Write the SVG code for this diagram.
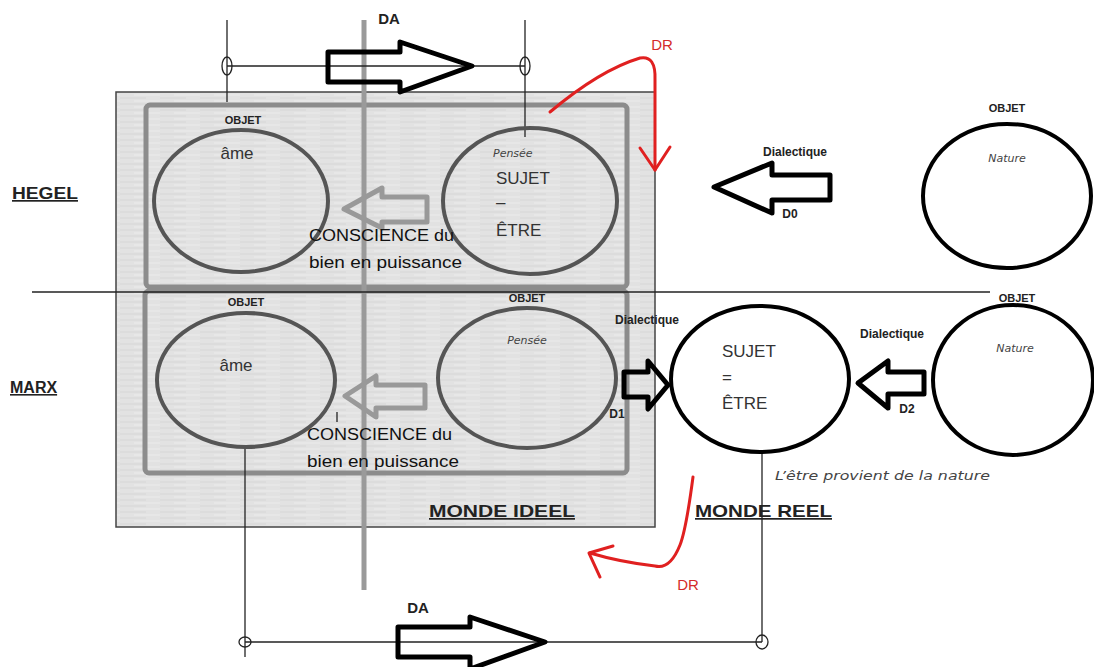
<svg xmlns="http://www.w3.org/2000/svg" width="1094" height="667" viewBox="0 0 1094 667">
<defs>
<style>
.lbl{font-family:"Liberation Sans",Arial,sans-serif;fill:#222}
.b{font-weight:bold}
.obj{font-family:"Liberation Sans",Arial,sans-serif;font-weight:bold;font-size:11px;fill:#222;text-anchor:middle}
.dia{font-family:"Liberation Sans",Arial,sans-serif;font-weight:bold;font-size:12px;fill:#222}
.it{font-family:"DejaVu Sans",Verdana,sans-serif;font-style:italic;fill:#444}
.big{font-family:"Liberation Sans",Arial,sans-serif;font-size:17px;fill:#333}
.narrow{font-family:"Liberation Sans",Arial,sans-serif;font-size:16px;fill:#111}
.red{font-family:"Liberation Sans",Arial,sans-serif;font-size:15px;fill:#d42a2a}
.gell{fill:none;stroke:#555;stroke-width:4}
.kell{fill:none;stroke:#000;stroke-width:4}
.thin{stroke:#222;stroke-width:1.3;fill:none}
.harrow{fill:none;stroke:#000;stroke-width:5;stroke-linejoin:round}
.garrow{fill:none;stroke:#999;stroke-width:5;stroke-linejoin:round}
.redp{fill:none;stroke:#e02020;stroke-width:3;stroke-linecap:round;stroke-linejoin:round}
.und{text-decoration:underline}
</style>
<pattern id="tex" width="40" height="6" patternUnits="userSpaceOnUse">
<rect width="40" height="6" fill="#e2e2e2"/>
<line x1="0" y1="2" x2="26" y2="2" stroke="#d6d6d6" stroke-width="1"/>
<line x1="14" y1="5" x2="40" y2="5" stroke="#ececec" stroke-width="1"/>
</pattern>
</defs>
<rect width="1094" height="667" fill="#fff"/>

<g id="monde-ideel-panel">
<rect x="116" y="92" width="539" height="435" fill="url(#tex)" stroke="#444" stroke-width="1.5"/>
<rect x="146" y="105" width="481" height="182" rx="4" fill="none" stroke="#8c8c8c" stroke-width="5"/>
<rect x="145" y="291" width="482" height="182" rx="4" fill="none" stroke="#8c8c8c" stroke-width="5"/>
<text class="lbl b und" x="429" y="517" font-size="17" textLength="146" lengthAdjust="spacingAndGlyphs">MONDE IDEEL</text>
</g>

<g id="gray-axis">
<line x1="364" y1="20" x2="364" y2="590" stroke="#9a9a9a" stroke-width="5"/>
</g>

<g id="labels-left">
<text class="lbl b und" x="12" y="199" font-size="17" textLength="66" lengthAdjust="spacingAndGlyphs">HEGEL</text>
<text class="lbl b und" x="10" y="393" font-size="16">MARX</text>
</g>

<g id="connectors">
<line class="thin" x1="32" y1="292" x2="990" y2="292"/>
<line class="thin" x1="227" y1="20" x2="227" y2="102"/>
<line class="thin" x1="525" y1="20" x2="525" y2="137"/>
<line class="thin" x1="227" y1="66" x2="525" y2="66"/>
<ellipse class="thin" cx="227" cy="66" rx="5" ry="9" fill="#fff"/>
<ellipse class="thin" cx="525" cy="66" rx="5" ry="9" fill="#fff"/>
<line class="thin" x1="245" y1="447" x2="245" y2="657"/>
<line class="thin" x1="762" y1="454" x2="762" y2="642"/>
<line class="thin" x1="245" y1="642" x2="762" y2="642"/>
<ellipse class="thin" cx="245" cy="642" rx="6" ry="5" fill="#fff"/>
<ellipse class="thin" cx="762" cy="642" rx="6" ry="7" fill="#fff"/>
<line class="thin" x1="337" y1="412" x2="337" y2="422"/>
<polygon class="harrow" points="328,52 400,52 400,42 472,66 400,92 400,82 328,82"/>
<polygon class="harrow" points="398,627 470,627 470,617 545,642 470,669 470,657 398,657"/>
<polygon class="garrow" points="344,209 382,188 382,197 427,197 427,222 382,222 382,228"/>
<polygon class="garrow" points="345,396 376,376 376,385 425,385 425,408 376,408 376,417"/>
<polygon class="harrow" points="714,187 772,163 772,175 830,175 830,200 772,200 772,213"/>
<polygon class="harrow" points="624,372 648,372 648,361 668,385 648,409 648,397 624,397"/>
<polygon class="harrow" points="858,383 888,361 888,372 924,372 924,394 888,394 888,408"/>
<path class="redp" d="M550,112 Q600,70 640,58 Q656,55 655,80 L655,170"/>
<path class="redp" d="M640,148 L655,170 L670,147"/>
<path class="redp" d="M693,477 Q686,530 680,545 Q670,570 655,566 Q620,562 590,553"/>
<path class="redp" d="M613,546 L589,553 L600,577"/>
<text class="lbl b" x="389" y="24" font-size="15" text-anchor="middle">DA</text>
<text class="lbl b" x="418" y="613" font-size="15" text-anchor="middle">DA</text>
<text class="red" x="662" y="50" text-anchor="middle">DR</text>
<text class="red" x="688" y="590" text-anchor="middle">DR</text>
<text class="dia" x="795" y="156" text-anchor="middle">Dialectique</text>
<text class="dia" x="790" y="218" text-anchor="middle">D0</text>
<text class="dia" x="647" y="324" text-anchor="middle">Dialectique</text>
<text class="dia" x="617" y="418" text-anchor="middle">D1</text>
<text class="dia" x="892" y="338" text-anchor="middle">Dialectique</text>
<text class="dia" x="907" y="413" text-anchor="middle">D2</text>
</g>

<g id="hegel-objet-ame">
<ellipse class="gell" cx="241" cy="201" rx="87" ry="71"/>
<text class="obj" x="243" y="124">OBJET</text>
<text class="big" x="237" y="159" text-anchor="middle">âme</text>
</g>

<g id="hegel-sujet">
<ellipse class="gell" cx="530" cy="201" rx="87" ry="73"/>
<text class="it" x="493" y="157" font-size="11">Pensée</text>
<text class="big" x="496" y="184">SUJET</text>
<text class="big" x="496" y="208">–</text>
<text class="big" x="496" y="236">ÊTRE</text>
</g>

<g id="hegel-conscience">
<text class="narrow" x="309" y="241" textLength="145" lengthAdjust="spacingAndGlyphs">CONSCIENCE du</text>
<text class="narrow" x="309" y="268" textLength="153" lengthAdjust="spacingAndGlyphs">bien en puissance</text>
</g>

<g id="hegel-nature">
<ellipse class="kell" cx="1007" cy="196" rx="84" ry="72"/>
<text class="obj" x="1007" y="112">OBJET</text>
<text class="it" x="1007" y="162" font-size="11" text-anchor="middle">Nature</text>
</g>

<g id="marx-objet-ame">
<ellipse class="gell" cx="246" cy="380" rx="89" ry="67"/>
<text class="obj" x="246" y="306">OBJET</text>
<text class="big" x="236" y="371" text-anchor="middle">âme</text>
</g>

<g id="marx-pensee">
<ellipse class="gell" cx="527" cy="378" rx="89" ry="70"/>
<text class="obj" x="527" y="302">OBJET</text>
<text class="it" x="527" y="344" font-size="11" text-anchor="middle">Pensée</text>
</g>

<g id="marx-conscience">
<text class="narrow" x="307" y="440" textLength="145" lengthAdjust="spacingAndGlyphs">CONSCIENCE du</text>
<text class="narrow" x="307" y="467" textLength="152" lengthAdjust="spacingAndGlyphs">bien en puissance</text>
</g>

<g id="marx-sujet">
<ellipse class="kell" cx="760" cy="379" rx="89" ry="73"/>
<text class="big" x="722" y="357">SUJET</text>
<text class="big" x="722" y="383">=</text>
<text class="big" x="722" y="409">ÊTRE</text>
</g>

<g id="marx-nature">
<ellipse class="kell" cx="1013" cy="380" rx="80" ry="75"/>
<text class="obj" x="1017" y="302">OBJET</text>
<text class="it" x="1015" y="352" font-size="11" text-anchor="middle">Nature</text>
<text class="it" x="775" y="480" font-size="12" textLength="215" lengthAdjust="spacingAndGlyphs">L’être provient de la nature</text>
</g>

<g id="monde-reel">
<text class="lbl b und" x="695" y="517" font-size="17" textLength="137" lengthAdjust="spacingAndGlyphs">MONDE REEL</text>
</g>
</svg>
